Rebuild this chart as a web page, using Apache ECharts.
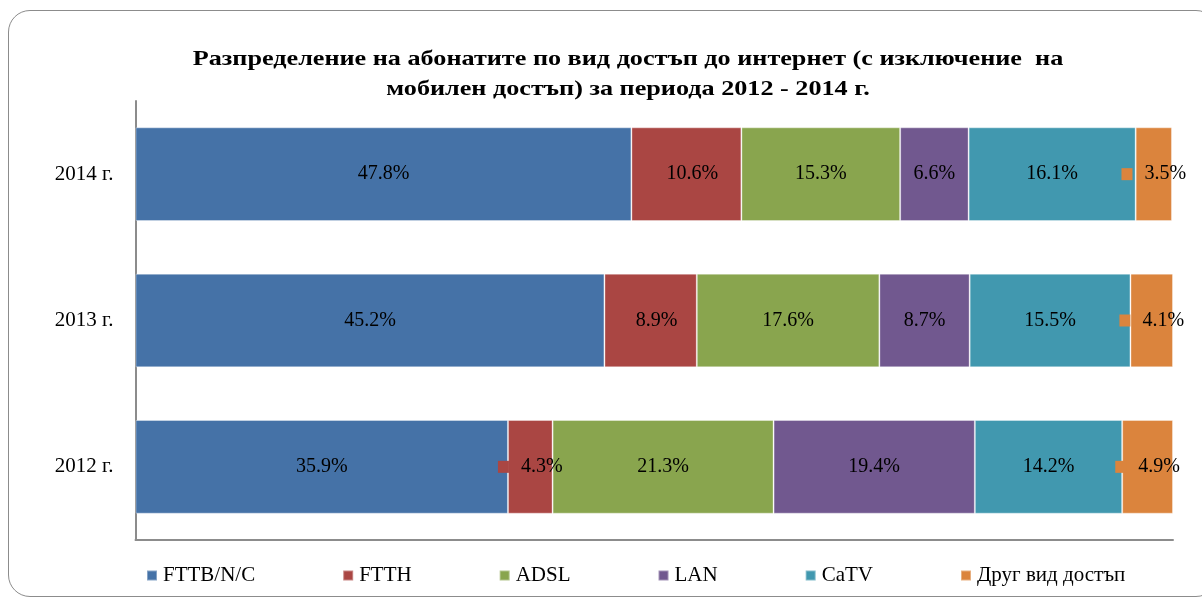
<!DOCTYPE html>
<html>
<head>
<meta charset="utf-8">
<script src="https://cdn.jsdelivr.net/npm/echarts@6/dist/echarts.min.js"></script>
<style>
    html, body { margin: 0; padding: 0; background: #fff; overflow: hidden; }
    #frame {
        position: absolute; left: 8px; top: 10px; width: 1210px; height: 587px;
        border: 1.5px solid #8c8c8c; border-radius: 22px; box-sizing: border-box;
    }
    #chart { position: absolute; left: 0; top: 0; width: 1202px; height: 601px; }
</style>
</head>
<body>
<div id="frame"></div>
<div id="chart"></div>
<script>
// chart data
const years = ['2012 г.', '2013 г.', '2014 г.'];
const seriesNames = ['FTTB/N/C', 'FTTH', 'ADSL', 'LAN', 'CaTV', 'Друг вид достъп'];
const fttb = [35.9, 45.2, 47.8];
const ftth = [4.3, 8.9, 10.6];
const adsl = [21.3, 17.6, 15.3];
const lan = [19.4, 8.7, 6.6];
const catv = [14.2, 15.5, 16.1];
const other = [4.9, 4.1, 3.5];
const titleText = 'Разпределение на абонатите по вид достъп до интернет (с изключение  на\nмобилен достъп) за периода 2012 - 2014 г.';

const colors = ['#4572A7', '#AA4643', '#89A54E', '#71588F', '#4198AF', '#DB843D'];
// labels that also show the legend key (series index -> year indexes)
const keyedLabels = { 1: [0], 5: [0, 1, 2] };

const serif = "'Times New Roman', 'Liberation Serif', serif";
const allValues = [fttb, ftth, adsl, lan, catv, other];

const chart = echarts.init(document.getElementById('chart'));

const series = allValues.map((vals, si) => ({
    name: seriesNames[si],
    type: 'bar',
    stack: 'total',
    barCategoryGap: '36%',
    data: vals,
    itemStyle: { color: colors[si], borderColor: 'rgba(255,255,255,0.35)', borderWidth: 1 },
    label: {
        show: true,
        position: 'inside',
        color: '#000',
        fontFamily: serif,
        fontSize: 20,
        formatter: function (p) {
            const txt = p.value.toFixed(1) + '%';
            const keyed = keyedLabels[si] && keyedLabels[si].indexOf(p.dataIndex) !== -1;
            return keyed ? '{k|}{t|' + txt + '}' : '{t|' + txt + '}';
        },
        rich: {
            k: { width: 11, height: 12, backgroundColor: colors[si] },
            t: { fontFamily: serif, fontSize: 20, color: '#000', padding: keyedLabels[si] ? [0, 0, 0, 12] : 0 }
        }
    }
}));

chart.setOption({
    animation: false,
    color: colors,
    // title drawn as graphic text so it can be widened like the original
    graphic: [{
        type: 'text',
        x: 628,
        y: 44,
        scaleX: 1.19,
        style: {
            text: titleText,
            font: 'bold 22px ' + serif,
            fill: '#000',
            align: 'center',
            verticalAlign: 'top',
            lineHeight: 30
        }
    }],
    legend: {
        left: 141,
        top: 560,
        icon: 'rect',
        itemWidth: 10,
        itemHeight: 10,
        itemGap: 87,
        textStyle: { fontFamily: serif, fontSize: 21, color: '#000', padding: [0, 0, 0, 1] },
        data: seriesNames
    },
    grid: { left: 135.5, right: 29, top: 101, bottom: 61 },
    xAxis: {
        type: 'value',
        min: 0,
        max: 100,
        axisLine: { show: true, lineStyle: { color: '#8c8c8c', width: 2 } },
        axisTick: { show: false },
        axisLabel: { show: false },
        splitLine: { show: false }
    },
    yAxis: {
        type: 'category',
        data: years,
        axisLine: { show: true, lineStyle: { color: '#8c8c8c', width: 2 } },
        axisTick: { show: false },
        axisLabel: { fontFamily: serif, fontSize: 21, color: '#000', margin: 22 }
    },
    series: series
});
</script>
</body>
</html>
